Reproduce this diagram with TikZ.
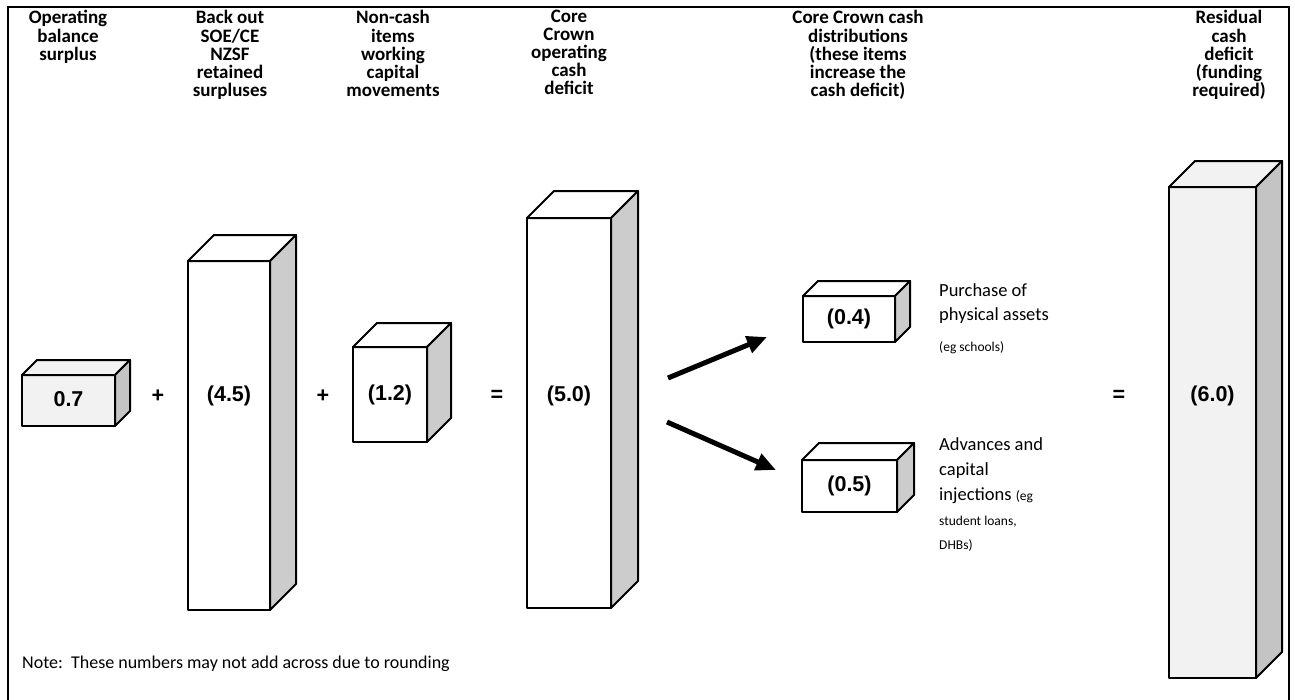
\documentclass[tikz,border=0pt]{standalone}
\usepackage{fontspec}
\setmainfont{Carlito}
\newfontfamily\arialfont{Liberation Sans}
\usetikzlibrary{arrows.meta}

\definecolor{sidegray}{HTML}{CCCCCC}
\definecolor{paleface}{HTML}{F2F2F2}
\definecolor{darkside}{HTML}{C4C4C4}

\tikzset{
  face/.style={draw=black, line width=2pt, line join=round},
  front/.style={face, rectangle, inner sep=0pt, outer sep=0pt, anchor=north west},
  num/.style={font=\arialfont\bfseries\fontsize{21.5}{24}\selectfont, inner sep=0pt},
  head/.style={font=\bfseries\fontsize{19}{18}\selectfont, align=center, anchor=north, inner sep=0pt},
  desc/.style={font=\fontsize{18.5}{22}\selectfont, anchor=base west, inner sep=0pt},
  smalldesc/.style={font=\fontsize{13.5}{16}\selectfont, anchor=base west, inner sep=0pt},
  notetext/.style={font=\fontsize{18}{22}\selectfont, anchor=base west, inner sep=0pt},
  flow/.style={line width=5pt, -{Triangle[length=20pt,width=17pt]}},
  frame/.style={line width=2.5pt},
}

% \cuboid{name}{left}{top}{right}{bottom}{depth}{front/top fill}{side fill}
\newcommand\cuboid[8]{%
  \node[front, fill=#7, minimum width={#4-#2}, minimum height={#5-#3}] (#1) at (#2,#3) {};
  \draw[face, fill=#7] (#1.north west) -- ++(#6,-#6)
      -- ([shift={(#6,-#6)}]#1.north east) -- (#1.north east) -- cycle;
  \draw[face, fill=#8] (#1.north east) -- ++(#6,-#6)
      -- ([shift={(#6,-#6)}]#1.south east) -- (#1.south east) -- cycle;
}

\begin{document}
\begin{tikzpicture}[x=1pt, y=-1pt]
\useasboundingbox (0,0) rectangle (1295,699);
\fill[white] (0,0) rectangle (1295,699);
\draw[frame] (8,702) -- (8,7) -- (1289,7) -- (1289,702);

% column headings
\node[head] (h1) at (68,9.5) {\strut Operating\\balance\\surplus};
\node[head] (h2) at (230,9.5) {\strut Back out\\SOE/CE\\NZSF\\retained\\surpluses};
\node[head] (h3) at (393,9.5) {\strut Non-cash\\items\\working\\capital\\movements};
\node[head] (h4) at (569,9.5) {\strut Core\\Crown\\operating\\cash\\deficit};
\node[head] (h5) at (858,9.5) {\strut Core Crown cash\\distributions\\(these items\\increase the\\cash deficit)};
\node[head] (h6) at (1229,9.5) {\strut Residual\\cash\\deficit\\(funding\\required)};

% boxes
\cuboid{b1}{22}{375}{115}{426}{15}{paleface}{darkside}
\cuboid{b2}{188}{261}{270}{610}{26}{white}{sidegray}
\cuboid{b3}{353}{347}{427}{442}{24}{white}{sidegray}
\cuboid{b4}{527}{218}{611}{608}{27}{white}{sidegray}
\cuboid{b5}{803}{296}{895}{342}{15}{white}{sidegray}
\cuboid{b6}{802}{460}{897}{512}{17}{white}{sidegray}
\cuboid{b7}{1169}{187}{1256}{678}{26}{paleface}{darkside}

% values
\node[num] (v1) at (68.5,399) {0.7};
\node[num] (v2) at (229,396) {(4.5)};
\node[num] (v3) at (390,395) {(1.2)};
\node[num] (v4) at (569,396) {(5.0)};
\node[num] (v5) at (849,319) {(0.4)};
\node[num] (v6) at (849.5,486) {(0.5)};
\node[num] (v7) at (1212.5,396) {(6.0)};

% operators
\node[num] (p1) at (158,396) {+};
\node[num] (p2) at (323,396) {+};
\node[num] (e1) at (497,396) {=};
\node[num] (e2) at (1119,396) {=};

% split arrows
\coordinate (a1s) at (668,378);
\coordinate (a1e) at (767,337);
\coordinate (a2s) at (667,422);
\coordinate (a2e) at (776,470);
\draw[flow] (a1s) -- (a1e);
\draw[flow] (a2s) -- (a2e);

% descriptions
\node[desc] (d1) at (939,296) {Purchase of};
\node[desc] (d2) at (939,320) {physical assets};
\node[smalldesc] (d3) at (939,351) {(eg schools)};
\node[desc] (d4) at (939,450) {Advances and};
\node[desc] (d5) at (939,475) {capital};
\node[desc] (d6) at (939,500) {injections {\fontsize{13.5}{16}\selectfont(eg}};
\node[smalldesc] (d7) at (939,525) {student loans,};
\node[smalldesc] (d8) at (939,549) {DHBs)};

% footnote
\node[notetext] (note) at (22,668) {Note:\ \ These numbers may not add across due to rounding};
\end{tikzpicture}
\end{document}
